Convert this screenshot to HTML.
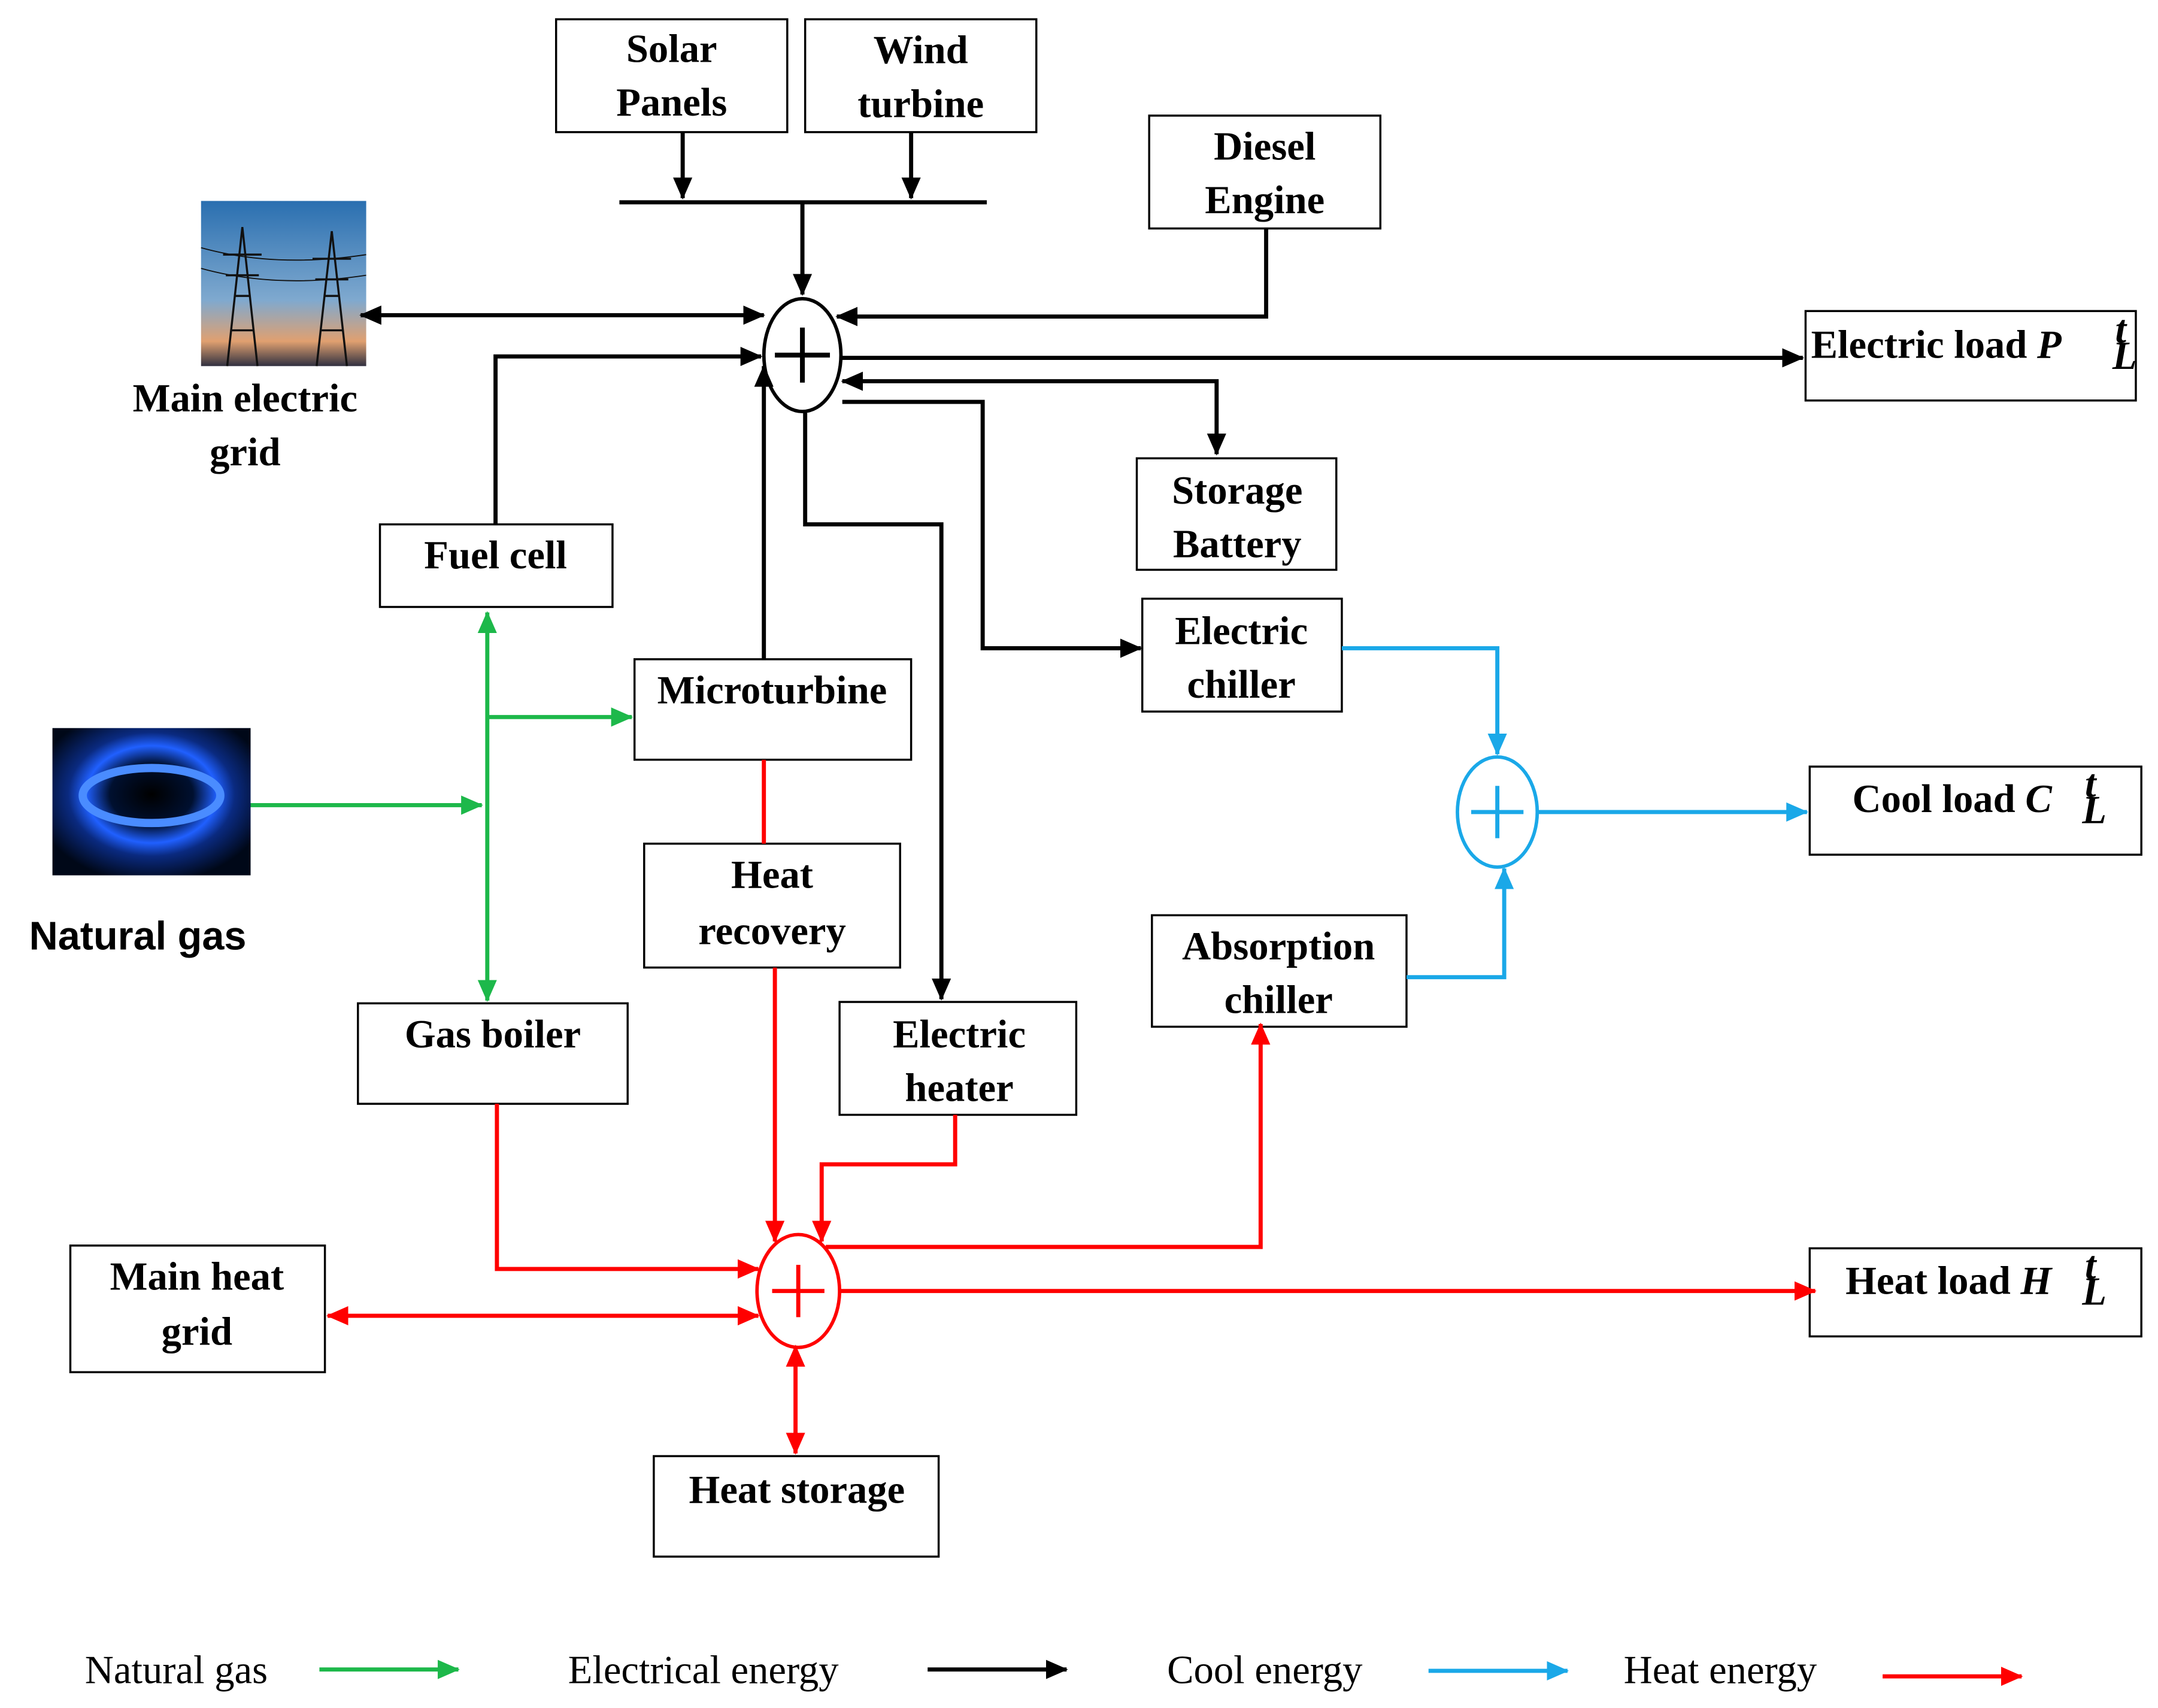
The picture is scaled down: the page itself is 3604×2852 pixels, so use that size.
<!DOCTYPE html>
<html><head><meta charset="utf-8"><style>
html,body{margin:0;padding:0;background:#fff}
svg{display:block}
text{font-family:"Liberation Serif",serif;font-size:29px;fill:#000;text-anchor:middle}
</style></head><body>
<svg width="3604" height="2852" viewBox="0 0 1568 1241" xmlns="http://www.w3.org/2000/svg">
<defs>
<marker id="ar" markerWidth="16" markerHeight="16" refX="15" refY="8" orient="auto-start-reverse" markerUnits="userSpaceOnUse"><path d="M0,1 L16,8 L0,15 z" fill="#f00"/></marker>
<marker id="ag" markerWidth="16" markerHeight="16" refX="15" refY="8" orient="auto-start-reverse" markerUnits="userSpaceOnUse"><path d="M0,1 L16,8 L0,15 z" fill="#1db84a"/></marker>
<marker id="ab" markerWidth="16" markerHeight="16" refX="15" refY="8" orient="auto-start-reverse" markerUnits="userSpaceOnUse"><path d="M0,1 L16,8 L0,15 z" fill="#1aa8e8"/></marker>
<marker id="ablk" markerWidth="16" markerHeight="16" refX="15" refY="8" orient="auto-start-reverse" markerUnits="userSpaceOnUse"><path d="M0,1 L16,8 L0,15 z" fill="#000"/></marker>
<linearGradient id="sky" x1="0" y1="0" x2="0" y2="1"><stop offset="0" stop-color="#2a6fb0"/><stop offset="0.6" stop-color="#7fa9cf"/><stop offset="0.85" stop-color="#e0a070"/><stop offset="1" stop-color="#303040"/></linearGradient>
<radialGradient id="gas" cx="0.5" cy="0.45" r="0.6"><stop offset="0" stop-color="#000"/><stop offset="0.35" stop-color="#001030"/><stop offset="0.55" stop-color="#2060ff"/><stop offset="0.7" stop-color="#0a2a80"/><stop offset="1" stop-color="#000818"/></radialGradient>
</defs>
<g fill="none" stroke="#000" stroke-width="1.5">
<rect x="404" y="14" width="168" height="82"/>
<rect x="585" y="14" width="168" height="82"/>
<rect x="835" y="84" width="168" height="82"/>
<rect x="1312" y="226" width="240" height="65"/>
<rect x="826" y="333" width="145" height="81"/>
<rect x="830" y="435" width="145" height="82"/>
<rect x="276" y="381" width="169" height="60"/>
<rect x="461" y="479" width="201" height="73"/>
<rect x="610" y="728" width="172" height="82"/>
<rect x="260" y="729" width="196" height="73"/>
<rect x="468" y="613" width="186" height="90"/>
<rect x="51" y="905" width="185" height="92"/>
<rect x="475" y="1058" width="207" height="73"/>
<rect x="1315" y="907" width="241" height="64"/>
<rect x="837" y="665" width="185" height="81"/>
<rect x="1315" y="557" width="241" height="64"/>
</g>
<rect x="146" y="146" width="120" height="120" fill="url(#sky)"/>
<g stroke="#111" stroke-width="1.5" fill="none">
<path d="M165,266 L176,165 L187,266 M170,215 L182,215 M168,240 L184,240 M162,185 L190,185 M164,200 L188,200"/>
<path d="M230,266 L241,168 L252,266 M235,215 L247,215 M233,240 L249,240 M227,188 L255,188 M229,203 L253,203"/>
<path d="M146,180 Q200,195 266,185 M146,195 Q200,210 266,200" stroke-width="0.8"/>
</g>
<rect x="38" y="529" width="144" height="107" fill="url(#gas)"/>
<ellipse cx="110" cy="578" rx="50" ry="20" fill="none" stroke="#4a8cff" stroke-width="6"/>
<g stroke="#000" stroke-width="3" fill="none">
<line x1="496" y1="96" x2="496" y2="144" marker-end="url(#ablk)"/>
<line x1="662" y1="96" x2="662" y2="144" marker-end="url(#ablk)"/>
<line x1="450" y1="147" x2="717" y2="147"/>
<line x1="583" y1="147" x2="583" y2="214" marker-end="url(#ablk)"/>
<polyline points="920,166 920,230 608,230" marker-end="url(#ablk)"/>
<line x1="262" y1="229" x2="555" y2="229" marker-start="url(#ablk)" marker-end="url(#ablk)"/>
<line x1="612" y1="260" x2="1310" y2="260" marker-end="url(#ablk)"/>
<polyline points="612,277 884,277 884,330" marker-start="url(#ablk)" marker-end="url(#ablk)"/>
<polyline points="612,292 714,292 714,471 829,471" marker-end="url(#ablk)"/>
<polyline points="360,381 360,259 553,259" marker-end="url(#ablk)"/>
<line x1="555" y1="479" x2="555" y2="266" marker-end="url(#ablk)"/>
<polyline points="585,300 585,381 684,381 684,726" marker-end="url(#ablk)"/>
<ellipse cx="583" cy="258" rx="28" ry="41" stroke-width="2.5"/>
<line x1="563" y1="258" x2="603" y2="258" stroke-width="3.5"/>
<line x1="583" y1="238" x2="583" y2="278" stroke-width="3.5"/>
</g>
<g stroke="#1db84a" stroke-width="3" fill="none">
<line x1="182" y1="585" x2="350" y2="585" marker-end="url(#ag)"/>
<line x1="354" y1="445" x2="354" y2="727" marker-start="url(#ag)" marker-end="url(#ag)"/>
<line x1="354" y1="521" x2="459" y2="521" marker-end="url(#ag)"/>
</g>
<g stroke="#f00" stroke-width="3" fill="none">
<line x1="555" y1="552" x2="555" y2="613"/>
<line x1="563" y1="703" x2="563" y2="902" marker-end="url(#ar)"/>
<polyline points="694,810 694,846 597,846 597,902" marker-end="url(#ar)"/>
<polyline points="361,802 361,922 551,922" marker-end="url(#ar)"/>
<line x1="238" y1="956" x2="551" y2="956" marker-start="url(#ar)" marker-end="url(#ar)"/>
<line x1="578" y1="978" x2="578" y2="1056" marker-start="url(#ar)" marker-end="url(#ar)"/>
<line x1="610" y1="938" x2="1319" y2="938" marker-end="url(#ar)"/>
<polyline points="600,906 916,906 916,744" marker-end="url(#ar)"/>
<ellipse cx="580" cy="938" rx="30" ry="41" stroke-width="2.5"/>
<line x1="561" y1="938" x2="599" y2="938" stroke-width="3"/>
<line x1="580" y1="919" x2="580" y2="957" stroke-width="3"/>
</g>
<g stroke="#1aa8e8" stroke-width="3" fill="none">
<polyline points="975,471 1088,471 1088,548" marker-end="url(#ab)"/>
<polyline points="1022,710 1093,710 1093,631" marker-end="url(#ab)"/>
<line x1="1118" y1="590" x2="1313" y2="590" marker-end="url(#ab)"/>
<ellipse cx="1088" cy="590" rx="29" ry="40" stroke-width="2.5"/>
<line x1="1069" y1="590" x2="1107" y2="590" stroke-width="3"/>
<line x1="1088" y1="571" x2="1088" y2="609" stroke-width="3"/>
</g>
<line x1="232" y1="1213" x2="333" y2="1213" stroke="#1db84a" stroke-width="3" marker-end="url(#ag)"/>
<line x1="674" y1="1213" x2="775" y2="1213" stroke="#000" stroke-width="3" marker-end="url(#ablk)"/>
<line x1="1038" y1="1214" x2="1139" y2="1214" stroke="#1aa8e8" stroke-width="3" marker-end="url(#ab)"/>
<line x1="1368" y1="1218" x2="1469" y2="1218" stroke="#f00" stroke-width="3" marker-end="url(#ar)"/>
<g font-weight="bold">
<text x="488" y="45">Solar</text><text x="488" y="84">Panels</text>
<text x="669" y="46">Wind</text><text x="669" y="85">turbine</text>
<text x="919" y="116">Diesel</text><text x="919" y="155">Engine</text>
<text x="178" y="299">Main electric</text><text x="178" y="338">grid</text>
<text x="1316" y="260" style="text-anchor:start">Electric load <tspan font-style="italic">P</tspan></text>
<text x="1537" y="249" font-size="17" font-style="italic" style="text-anchor:start">t</text><text x="1535" y="268" font-size="17" font-style="italic" style="text-anchor:start">L</text>
<text x="899" y="366">Storage</text><text x="899" y="405">Battery</text>
<text x="902" y="468">Electric</text><text x="902" y="507">chiller</text>
<text x="360" y="413">Fuel cell</text>
<text x="561" y="511">Microturbine</text>
<text x="561" y="645">Heat</text><text x="561" y="686">recovery</text>
<text x="697" y="761">Electric</text><text x="697" y="800">heater</text>
<text x="358" y="761">Gas boiler</text>
<text x="929" y="697">Absorption</text><text x="929" y="736">chiller</text>
<text x="1346" y="590" style="text-anchor:start">Cool load <tspan font-style="italic">C</tspan></text>
<text x="1515" y="579" font-size="17" font-style="italic" style="text-anchor:start">t</text><text x="1513" y="598" font-size="17" font-style="italic" style="text-anchor:start">L</text>
<text x="143" y="937">Main heat</text><text x="143" y="977">grid</text>
<text x="579" y="1092">Heat storage</text>
<text x="1341" y="940" style="text-anchor:start">Heat load <tspan font-style="italic">H</tspan></text>
<text x="1515" y="929" font-size="17" font-style="italic" style="text-anchor:start">t</text><text x="1513" y="948" font-size="17" font-style="italic" style="text-anchor:start">L</text>
<text x="100" y="690" style="font-family:'Liberation Sans',sans-serif" font-size="27">Natural gas</text>
</g>
<g>
<text x="128" y="1223" font-size="32">Natural gas</text>
<text x="511" y="1223" font-size="32">Electrical energy</text>
<text x="919" y="1223" font-size="32">Cool energy</text>
<text x="1250" y="1223" font-size="32">Heat energy</text>
</g>
</svg>
</body></html>
